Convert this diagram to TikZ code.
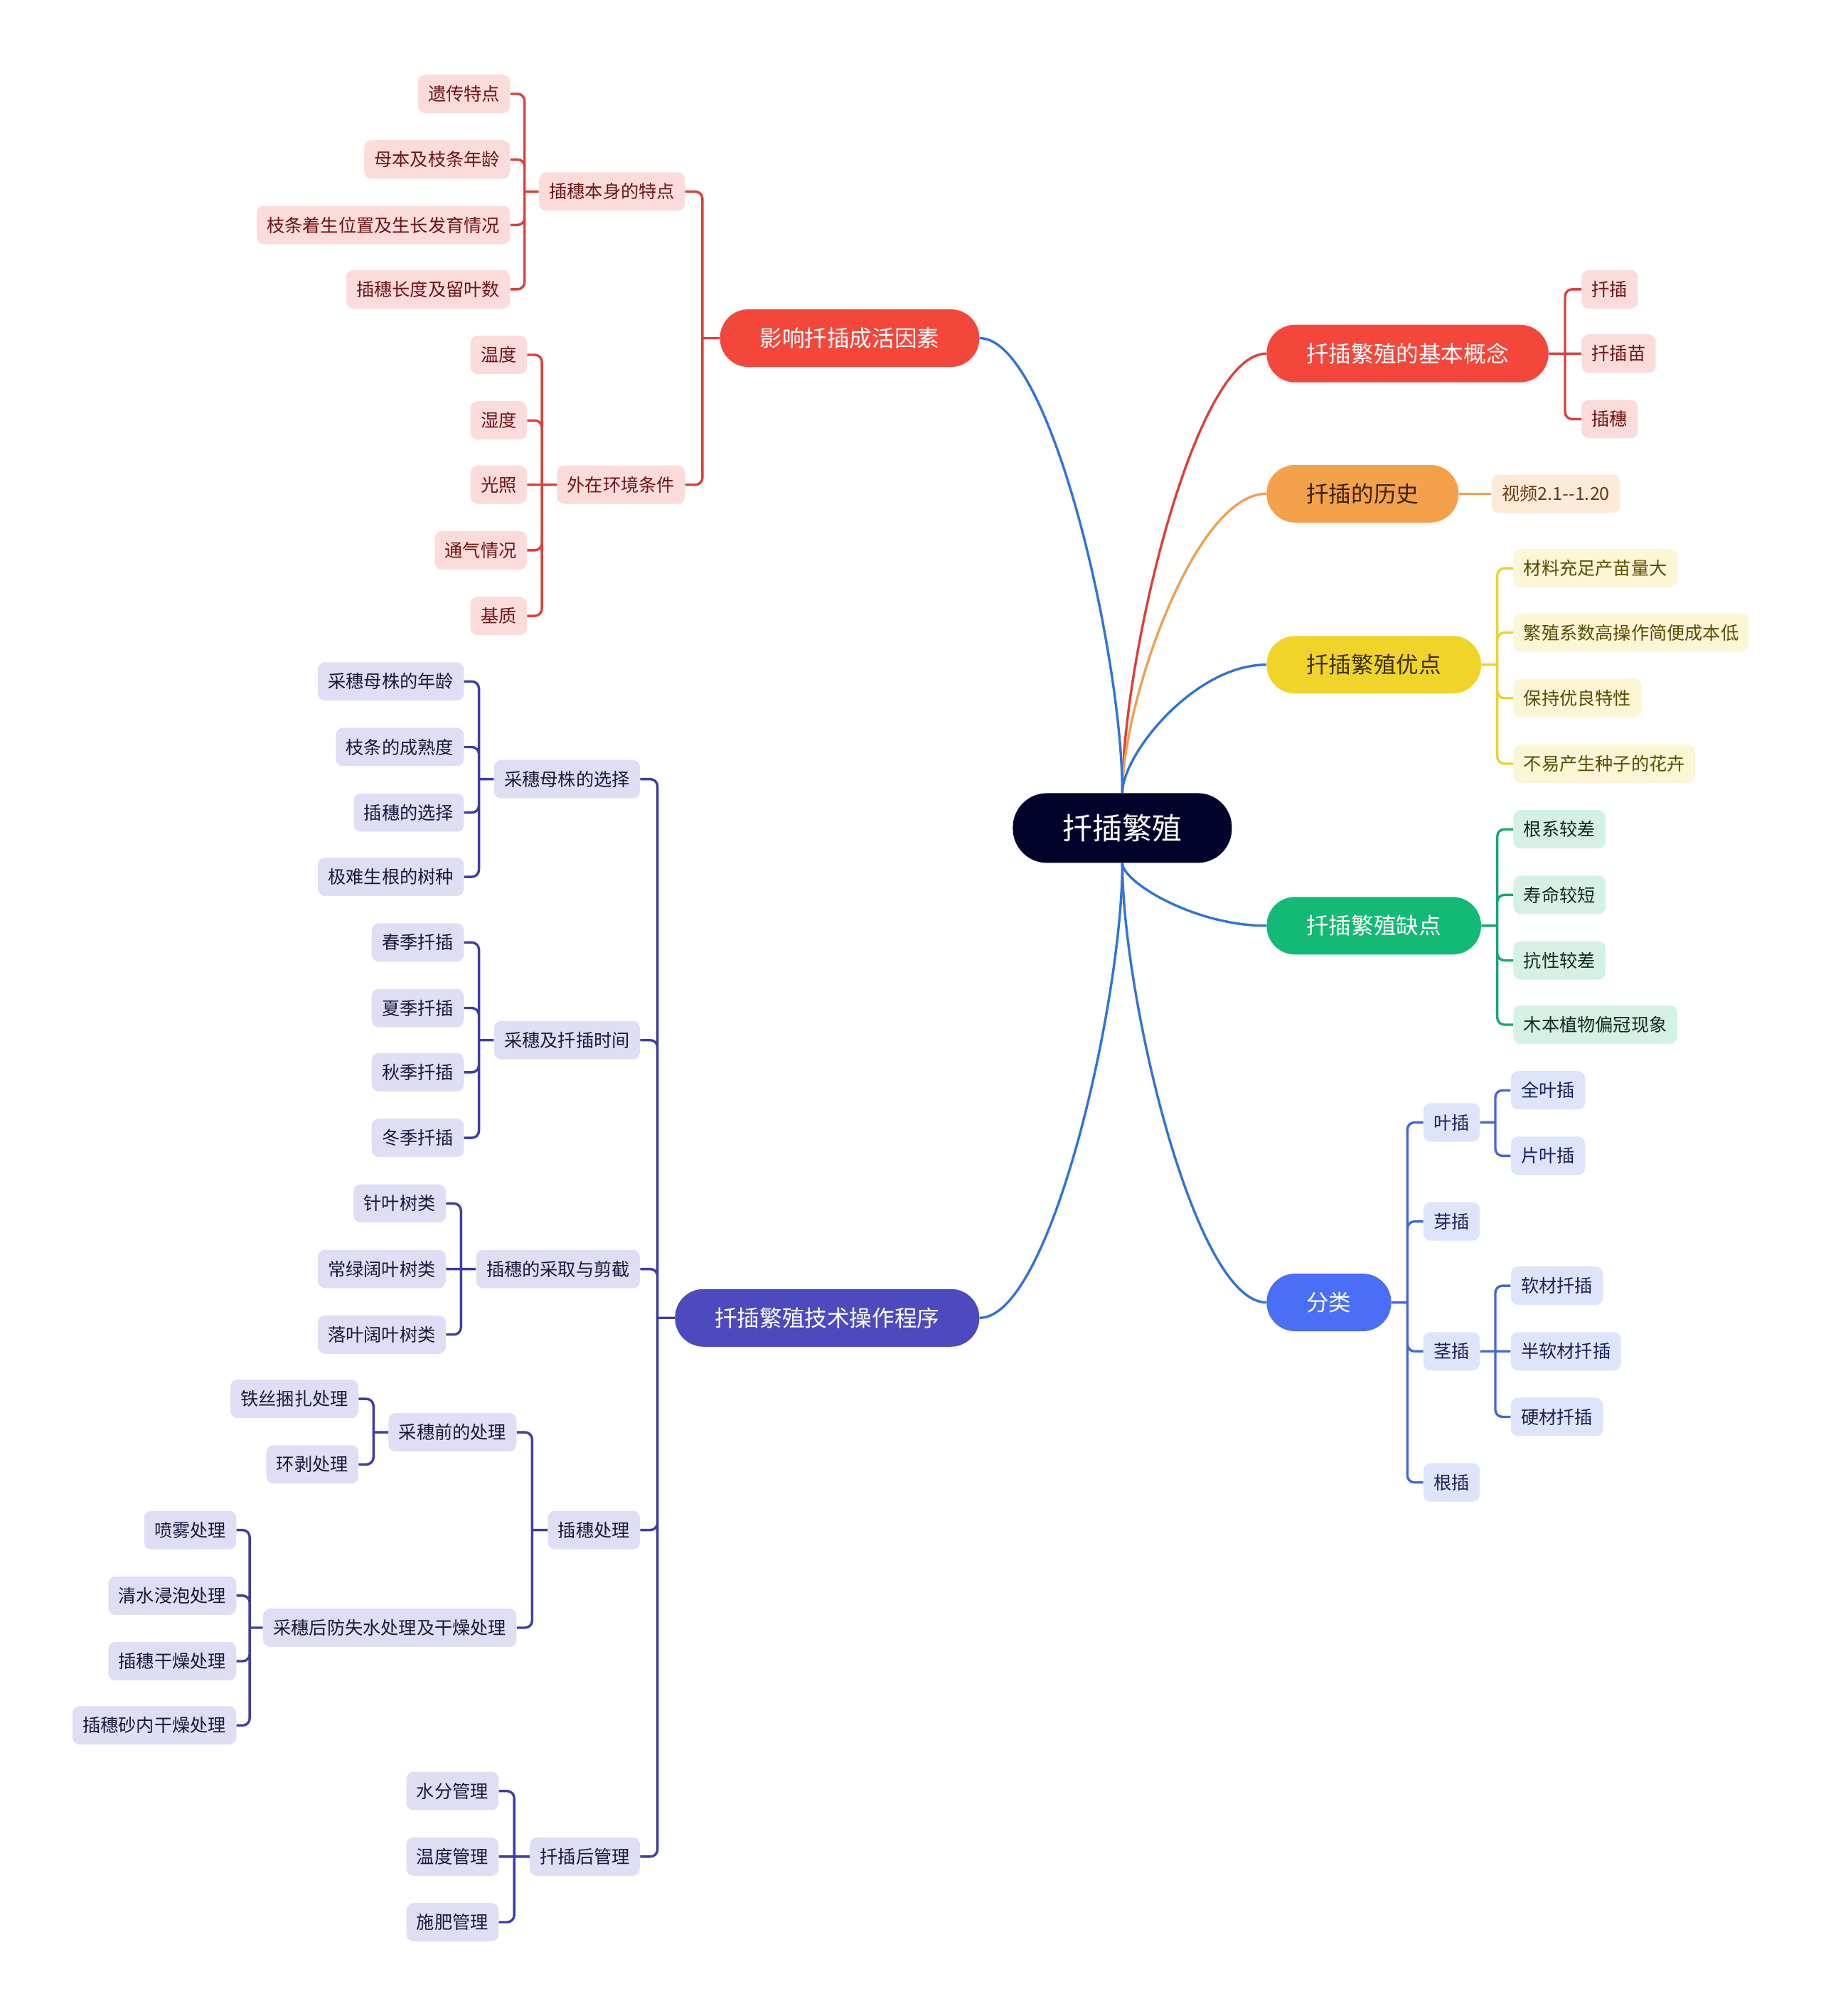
\documentclass[tikz,border=0pt]{standalone}
\usepackage{fontspec}
\setmainfont{Noto Sans CJK SC}
\usetikzlibrary{calc}

\definecolor{rootFill}{HTML}{02032B}
\definecolor{stemLine}{HTML}{2F74D8}
\definecolor{redFill}{HTML}{F4473C}
\definecolor{redLine}{HTML}{DF3F38}
\definecolor{redLeaf}{HTML}{FBDCDA}
\definecolor{redText}{HTML}{6E1414}
\definecolor{orgFill}{HTML}{F3A14A}
\definecolor{orgLine}{HTML}{F0A050}
\definecolor{orgLeaf}{HTML}{FDEBDA}
\definecolor{orgText}{HTML}{6A3A0C}
\definecolor{orgDark}{HTML}{3A2200}
\definecolor{ylwFill}{HTML}{F1D42A}
\definecolor{ylwLine}{HTML}{EDD030}
\definecolor{ylwLeaf}{HTML}{FCF5D6}
\definecolor{ylwText}{HTML}{5A4C00}
\definecolor{ylwDark}{HTML}{3A3000}
\definecolor{grnFill}{HTML}{12BA76}
\definecolor{grnLine}{HTML}{16A870}
\definecolor{grnLeaf}{HTML}{D4F2E4}
\definecolor{grnText}{HTML}{102A1E}
\definecolor{bluFill}{HTML}{4A6EF6}
\definecolor{bluLine}{HTML}{4466DD}
\definecolor{bluLeaf}{HTML}{DEE4FA}
\definecolor{bluText}{HTML}{16225E}
\definecolor{indFill}{HTML}{4D49BF}
\definecolor{indLine}{HTML}{3F3CA8}
\definecolor{indLeaf}{HTML}{DFDEF4}
\definecolor{indText}{HTML}{1A1840}

\begin{document}
\begin{tikzpicture}[
    x=0.904pt, y=-0.904pt,
    root/.style={rectangle, fill=rootFill, text=white, rounded corners=24pt, minimum height=49pt, inner xsep=35pt, font=\fontsize{21}{24}\selectfont},
    topic/.style={rectangle, rounded corners=20pt, minimum height=40.5pt, inner xsep=28pt, font=\fontsize{15.8}{18}\selectfont},
    leaf/.style={rectangle, rounded corners=5pt, minimum height=27pt, inner xsep=7.2pt, font=\fontsize{12.6}{14}\selectfont},
    rleaf/.style={leaf, fill=redLeaf, text=redText},
    oleaf/.style={leaf, fill=orgLeaf, text=orgText},
    yleaf/.style={leaf, fill=ylwLeaf, text=ylwText},
    gleaf/.style={leaf, fill=grnLeaf, text=grnText},
    bleaf/.style={leaf, fill=bluLeaf, text=bluText},
    ileaf/.style={leaf, fill=indLeaf, text=indText},
    stem/.style={line width=1.7pt, draw=stemLine},
    link/.style={line width=1.7pt, rounded corners=5pt},
]
\useasboundingbox (0,0) rectangle (1416,1568);

\node[root] (root) at (873,644) {扦插繁殖};

% right side
\node[topic, fill=redFill, text=white, anchor=west] (concept) at (985,275) {扦插繁殖的基本概念};
\node[topic, fill=orgFill, text=orgDark, anchor=west] (history) at (985,384) {扦插的历史};
\node[topic, fill=ylwFill, text=ylwDark, anchor=west] (merit) at (985,517) {扦插繁殖优点};
\node[topic, fill=grnFill, text=white, anchor=west] (defect) at (985,720) {扦插繁殖缺点};
\node[topic, fill=bluFill, text=white, anchor=west] (kinds) at (985,1013) {分类};

\node[rleaf, anchor=west] (con1) at (1230,225) {扦插};
\node[rleaf, anchor=west] (con2) at (1230,275) {扦插苗};
\node[rleaf, anchor=west] (con3) at (1230,326) {插穗};

\node[oleaf, anchor=west] (hist1) at (1160,384) {视频2.1\mbox{-}\mbox{-}1.20};

\node[yleaf, anchor=west] (mer1) at (1177,442) {材料充足产苗量大};
\node[yleaf, anchor=west] (mer2) at (1177,492) {繁殖系数高操作简便成本低};
\node[yleaf, anchor=west] (mer3) at (1177,543) {保持优良特性};
\node[yleaf, anchor=west] (mer4) at (1177,594) {不易产生种子的花卉};

\node[gleaf, anchor=west] (def1) at (1177,645) {根系较差};
\node[gleaf, anchor=west] (def2) at (1177,696) {寿命较短};
\node[gleaf, anchor=west] (def3) at (1177,747) {抗性较差};
\node[gleaf, anchor=west] (def4) at (1177,797) {木本植物偏冠现象};

\node[bleaf, anchor=west] (leafcut) at (1107,873) {叶插};
\node[bleaf, anchor=west] (budcut) at (1107,950) {芽插};
\node[bleaf, anchor=west] (stemcut) at (1107,1051) {茎插};
\node[bleaf, anchor=west] (rootcut) at (1107,1153) {根插};
\node[bleaf, anchor=west] (whole) at (1175,848) {全叶插};
\node[bleaf, anchor=west] (piece) at (1175,899) {片叶插};
\node[bleaf, anchor=west] (soft) at (1175,1000) {软材扦插};
\node[bleaf, anchor=west] (semi) at (1175,1051) {半软材扦插};
\node[bleaf, anchor=west] (hard) at (1175,1102) {硬材扦插};

% left side
\node[topic, fill=redFill, text=white, anchor=east] (factor) at (762,263) {影响扦插成活因素};
\node[topic, fill=indFill, text=white, anchor=east] (method) at (762,1025) {扦插繁殖技术操作程序};

\node[rleaf, anchor=east] (self) at (533,149) {插穗本身的特点};
\node[rleaf, anchor=east] (env) at (533,377) {外在环境条件};
\node[rleaf, anchor=east] (self1) at (397,73) {遗传特点};
\node[rleaf, anchor=east] (self2) at (397,124) {母本及枝条年龄};
\node[rleaf, anchor=east] (self3) at (397,175) {枝条着生位置及生长发育情况};
\node[rleaf, anchor=east] (self4) at (397,225) {插穗长度及留叶数};
\node[rleaf, anchor=east] (env1) at (410,276) {温度};
\node[rleaf, anchor=east] (env2) at (410,327) {湿度};
\node[rleaf, anchor=east] (env3) at (410,377) {光照};
\node[rleaf, anchor=east] (env4) at (410,428) {通气情况};
\node[rleaf, anchor=east] (env5) at (410,479) {基质};

\node[ileaf, anchor=east] (mother) at (498,606) {采穗母株的选择};
\node[ileaf, anchor=east] (timing) at (498,809) {采穗及扦插时间};
\node[ileaf, anchor=east] (taking) at (498,987) {插穗的采取与剪截};
\node[ileaf, anchor=east] (treat) at (498,1190) {插穗处理};
\node[ileaf, anchor=east] (after) at (498,1444) {扦插后管理};

\node[ileaf, anchor=east] (mother1) at (361,530) {采穗母株的年龄};
\node[ileaf, anchor=east] (mother2) at (361,581) {枝条的成熟度};
\node[ileaf, anchor=east] (mother3) at (361,632) {插穗的选择};
\node[ileaf, anchor=east] (mother4) at (361,682) {极难生根的树种};
\node[ileaf, anchor=east] (time1) at (361,733) {春季扦插};
\node[ileaf, anchor=east] (time2) at (361,784) {夏季扦插};
\node[ileaf, anchor=east] (time3) at (361,834) {秋季扦插};
\node[ileaf, anchor=east] (time4) at (361,885) {冬季扦插};
\node[ileaf, anchor=east] (take1) at (347,936) {针叶树类};
\node[ileaf, anchor=east] (take2) at (347,987) {常绿阔叶树类};
\node[ileaf, anchor=east] (take3) at (347,1038) {落叶阔叶树类};
\node[ileaf, anchor=east] (pre) at (402,1114) {采穗前的处理};
\node[ileaf, anchor=east] (post) at (402,1266) {采穗后防失水处理及干燥处理};
\node[ileaf, anchor=east] (pre1) at (279,1088) {铁丝捆扎处理};
\node[ileaf, anchor=east] (pre2) at (279,1139) {环剥处理};
\node[ileaf, anchor=east] (post1) at (184,1190) {喷雾处理};
\node[ileaf, anchor=east] (post2) at (184,1241) {清水浸泡处理};
\node[ileaf, anchor=east] (post3) at (184,1292) {插穗干燥处理};
\node[ileaf, anchor=east] (post4) at (184,1342) {插穗砂内干燥处理};
\node[ileaf, anchor=east] (after1) at (388,1393) {水分管理};
\node[ileaf, anchor=east] (after2) at (388,1444) {温度管理};
\node[ileaf, anchor=east] (after3) at (388,1495) {施肥管理};

% from the root
\draw[stem, draw=redLine] (root.north) .. controls ($(root.north)!0.3!(root.north |- concept.west)$) and ($(concept.west)!0.5!(root.north |- concept.west)$) .. (concept.west);
\draw[stem, draw=orgLine] (root.north) .. controls ($(root.north)!0.3!(root.north |- history.west)$) and ($(history.west)!0.5!(root.north |- history.west)$) .. (history.west);
\draw[stem] (root.north) .. controls ($(root.north)!0.3!(root.north |- merit.west)$) and ($(merit.west)!0.5!(root.north |- merit.west)$) .. (merit.west);
\draw[stem] (root.south) .. controls ($(root.south)!0.3!(root.south |- defect.west)$) and ($(defect.west)!0.5!(root.south |- defect.west)$) .. (defect.west);
\draw[stem] (root.south) .. controls ($(root.south)!0.3!(root.south |- kinds.west)$) and ($(kinds.west)!0.5!(root.south |- kinds.west)$) .. (kinds.west);
\draw[stem] (root.north) .. controls ($(root.north)!0.3!(root.north |- factor.east)$) and ($(factor.east)!0.5!(root.north |- factor.east)$) .. (factor.east);
\draw[stem] (root.south) .. controls ($(root.south)!0.3!(root.south |- method.east)$) and ($(method.east)!0.5!(root.south |- method.east)$) .. (method.east);

% spines
\coordinate (conceptS) at ($(concept.east)!0.5!(concept.east -| con1.west)$);
\coordinate (meritS) at ($(merit.east)!0.5!(merit.east -| mer1.west)$);
\coordinate (defectS) at ($(defect.east)!0.5!(defect.east -| def1.west)$);
\coordinate (kindsS) at ($(kinds.east)!0.5!(kinds.east -| leafcut.west)$);
\coordinate (leafcutS) at ($(leafcut.east)!0.5!(leafcut.east -| whole.west)$);
\coordinate (stemcutS) at ($(stemcut.east)!0.5!(stemcut.east -| soft.west)$);
\coordinate (factorS) at ($(factor.west)!0.5!(factor.west -| self.east)$);
\coordinate (selfS) at ($(self.west)!0.5!(self.west -| self1.east)$);
\coordinate (envS) at ($(env.west)!0.5!(env.west -| env1.east)$);
\coordinate (methodS) at ($(method.west)!0.5!(method.west -| mother.east)$);
\coordinate (motherS) at ($(mother.west)!0.5!(mother.west -| mother1.east)$);
\coordinate (timingS) at ($(timing.west)!0.5!(timing.west -| time1.east)$);
\coordinate (takingS) at ($(taking.west)!0.5!(taking.west -| take1.east)$);
\coordinate (treatS) at ($(treat.west)!0.5!(treat.west -| pre.east)$);
\coordinate (preS) at ($(pre.west)!0.5!(pre.west -| pre1.east)$);
\coordinate (postS) at ($(post.west)!0.5!(post.west -| post1.east)$);
\coordinate (afterS) at ($(after.west)!0.5!(after.west -| after1.east)$);

\draw[link, draw=redLine] (concept.east) -- (con2.west) (conceptS) |- (con1.west) (conceptS) |- (con3.west);
\draw[link, draw=orgLine] (history.east) -- (hist1.west);
\draw[link, draw=ylwLine] (merit.east) -- (meritS) (meritS) |- (mer1.west) (meritS) |- (mer2.west) (meritS) |- (mer3.west) (meritS) |- (mer4.west);
\draw[link, draw=grnLine] (defect.east) -- (defectS) (defectS) |- (def1.west) (defectS) |- (def2.west) (defectS) |- (def3.west) (defectS) |- (def4.west);
\draw[link, draw=bluLine] (kinds.east) -- (kindsS) (kindsS) |- (leafcut.west) (kindsS) |- (budcut.west) (kindsS) |- (stemcut.west) (kindsS) |- (rootcut.west);
\draw[link, draw=bluLine] (leafcut.east) -- (leafcutS) (leafcutS) |- (whole.west) (leafcutS) |- (piece.west);
\draw[link, draw=bluLine] (stemcut.east) -- (semi.west) (stemcutS) |- (soft.west) (stemcutS) |- (hard.west);

\draw[link, draw=redLine] (factor.west) -- (factorS) (factorS) |- (self.east) (factorS) |- (env.east);
\draw[link, draw=redLine] (self.west) -- (selfS) (selfS) |- (self1.east) (selfS) |- (self2.east) (selfS) |- (self3.east) (selfS) |- (self4.east);
\draw[link, draw=redLine] (env.west) -- (env3.east) (envS) |- (env1.east) (envS) |- (env2.east) (envS) |- (env4.east) (envS) |- (env5.east);

\draw[link, draw=indLine] (method.west) -- (methodS) (methodS) |- (mother.east) (methodS) |- (timing.east) (methodS) |- (taking.east) (methodS) |- (treat.east) (methodS) |- (after.east);
\draw[link, draw=indLine] (mother.west) -- (motherS) (motherS) |- (mother1.east) (motherS) |- (mother2.east) (motherS) |- (mother3.east) (motherS) |- (mother4.east);
\draw[link, draw=indLine] (timing.west) -- (timingS) (timingS) |- (time1.east) (timingS) |- (time2.east) (timingS) |- (time3.east) (timingS) |- (time4.east);
\draw[link, draw=indLine] (taking.west) -- (take2.east) (takingS) |- (take1.east) (takingS) |- (take3.east);
\draw[link, draw=indLine] (treat.west) -- (treatS) (treatS) |- (pre.east) (treatS) |- (post.east);
\draw[link, draw=indLine] (pre.west) -- (preS) (preS) |- (pre1.east) (preS) |- (pre2.east);
\draw[link, draw=indLine] (post.west) -- (postS) (postS) |- (post1.east) (postS) |- (post2.east) (postS) |- (post3.east) (postS) |- (post4.east);
\draw[link, draw=indLine] (after.west) -- (after2.east) (afterS) |- (after1.east) (afterS) |- (after3.east);
\end{tikzpicture}
\end{document}
